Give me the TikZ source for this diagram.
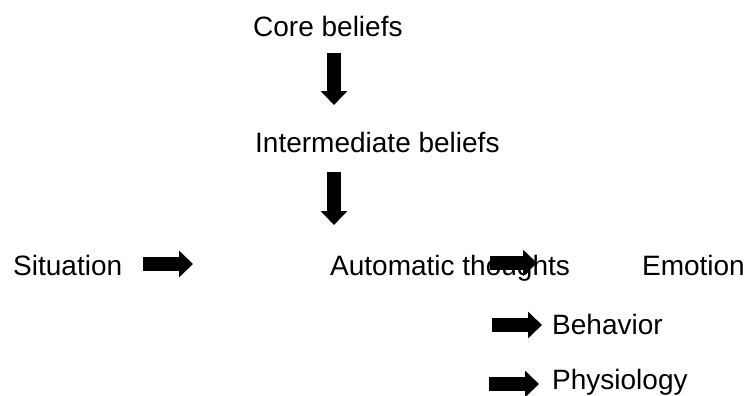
\documentclass[tikz,border=0pt]{standalone}
\usepackage{fontspec}
\setmainfont{Liberation Sans}
\usepackage{tikz}
\usetikzlibrary{arrows.meta}
\tikzset{
  lbl/.style={font=\fontsize{28}{30}\selectfont, inner sep=0pt, anchor=base west},
  fat/.style={line width=14pt, -{Triangle[length=14pt, width=26pt]}}
}
\begin{document}
\begin{tikzpicture}[x=1pt, y=-1pt]
\useasboundingbox (0,0) rectangle (747,396);
\node[lbl] (core) at (253,37) {Core beliefs};
\node[lbl] (inter) at (255,152) {Intermediate beliefs};
\node[lbl] (sit) at (13,275) {Situation};
\node[lbl] (auto) at (330,275) {Automatic thoughts};
\node[lbl, anchor=base east] (emo) at (745,275) {Emotion};
\node[lbl] (beh) at (552,334) {Behavior};
\node[lbl] (phys) at (552,389) {Physiology};
\coordinate (v1s) at (334,53);  \coordinate (v1e) at (334,105);
\coordinate (v2s) at (334,172); \coordinate (v2e) at (334,225);
\coordinate (h1s) at (143,264); \coordinate (h1e) at (193,264);
\coordinate (h2s) at (490,263); \coordinate (h2e) at (537,263);
\coordinate (h3s) at (492,325); \coordinate (h3e) at (542,325);
\coordinate (h4s) at (489,384); \coordinate (h4e) at (539,384);
\draw[fat] (v1s) -- (v1e);
\draw[fat] (v2s) -- (v2e);
\draw[fat] (h1s) -- (h1e);
\draw[fat] (h2s) -- (h2e);
\draw[fat] (h3s) -- (h3e);
\draw[fat] (h4s) -- (h4e);
\end{tikzpicture}
\end{document}
